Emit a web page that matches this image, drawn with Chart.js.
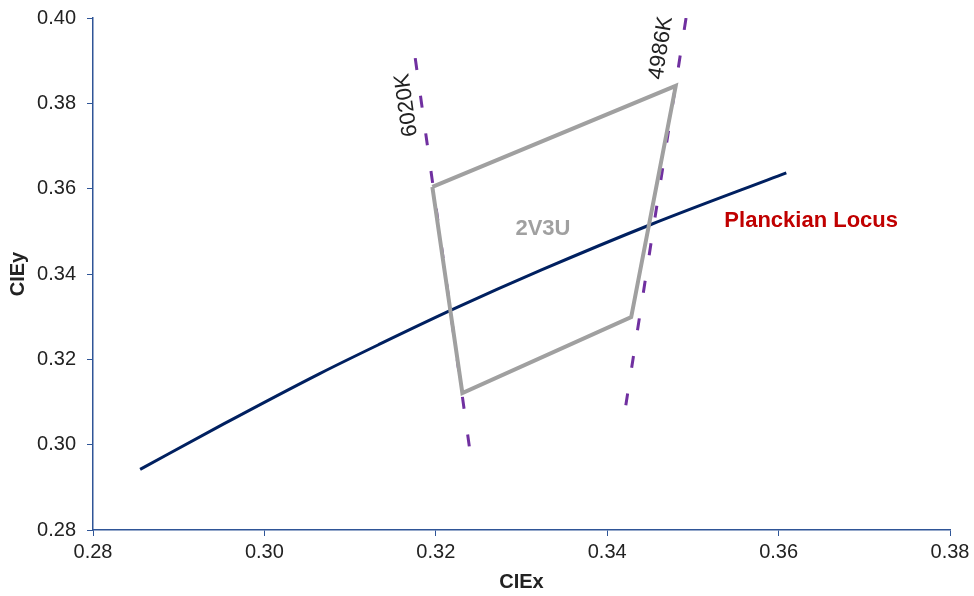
<!DOCTYPE html>
<html>
<head>
<meta charset="utf-8">
<script src="https://cdn.jsdelivr.net/npm/chart.js@4.4.0/dist/chart.umd.min.js"></script>
<style>
  body { margin: 0; background: #fff; }
  #wrap { width: 974px; height: 596px; }
</style>
</head>
<body>
<div id="wrap"><canvas id="cie"></canvas></div>
<script>
// planckian locus (CIE 1931), ~9000K down to 4500K
const locusX = [0.2855, 0.2952, 0.3064, 0.3135, 0.3221, 0.3324, 0.3451, 0.3609];
const locusY = [0.2942, 0.3048, 0.3166, 0.3236, 0.3318, 0.3410, 0.3516, 0.3637];

// 2V3U quadrangle
const quadX = [0.3196, 0.3480, 0.3428, 0.3231, 0.3196];
const quadY = [0.3604, 0.3841, 0.3299, 0.3121, 0.3604];

// isotherm lines
const cct6020X = [0.3176, 0.3240];
const cct6020Y = [0.3906, 0.2983];
const cct4986X = [0.3492, 0.3420];
const cct4986Y = [0.4000, 0.3070];

const xTicks = [0.28, 0.30, 0.32, 0.34, 0.36, 0.38];
const yTicks = [0.28, 0.30, 0.32, 0.34, 0.36, 0.38, 0.40];

// text labels: [text, x, y, rotation deg, color, bold]
const notes = [
  ["6020K", 0.3166, 0.3796, -98, "#222222", false],
  ["4986K", 0.3463, 0.3930, -81, "#222222", false],
  ["2V3U", 0.3325, 0.3505, 0, "#A0A0A0", true],
  ["Planckian Locus", 0.3638, 0.3524, 0, "#C00000", true]
];

function toPts(xs, ys) {
  return xs.map((x, i) => ({ x: x, y: ys[i] }));
}

const axisColor = "#2F5597";
const font = "'Liberation Sans', Arial, sans-serif";

const notesPlugin = {
  id: "notes",
  afterDatasetsDraw(chart) {
    const ctx = chart.ctx;
    const sx = chart.scales.x, sy = chart.scales.y;
    notes.forEach(n => {
      ctx.save();
      ctx.translate(sx.getPixelForValue(n[1]), sy.getPixelForValue(n[2]));
      ctx.rotate(n[3] * Math.PI / 180);
      ctx.fillStyle = n[4];
      ctx.font = (n[5] ? "bold " : "") + "22px " + font;
      ctx.textAlign = "center";
      ctx.textBaseline = "middle";
      ctx.fillText(n[0], 0, 0);
      ctx.restore();
    });
  }
};

// first dataset ends up drawn on top
new Chart(document.getElementById("cie"), {
  type: "scatter",
  data: {
    datasets: [
      {
        data: toPts(quadX, quadY),
        showLine: true, borderColor: "#A0A0A0", borderWidth: 4,
        pointRadius: 0
      },
      {
        data: toPts(locusX, locusY),
        showLine: true, borderColor: "#002060", borderWidth: 3,
        pointRadius: 0, cubicInterpolationMode: "monotone"
      },
      {
        data: toPts(cct6020X, cct6020Y),
        showLine: true, borderColor: "#7030A0", borderWidth: 3,
        borderDash: [12, 26], pointRadius: 0
      },
      {
        data: toPts(cct4986X, cct4986Y),
        showLine: true, borderColor: "#7030A0", borderWidth: 3,
        borderDash: [12, 26], pointRadius: 0
      }
    ]
  },
  options: {
    responsive: true,
    maintainAspectRatio: false,
    animation: false,
    layout: { padding: { top: 18, right: 24, left: 0, bottom: 0 } },
    plugins: { legend: { display: false }, tooltip: { enabled: false } },
    scales: {
      x: {
        type: "linear", min: 0.28, max: 0.38,
        afterFit(scale) { scale.height = 66; scale.paddingLeft = 0; scale.paddingRight = 0; },
        afterBuildTicks(scale) { scale.ticks = xTicks.map(v => ({ value: v })); },
        grid: { display: true, drawOnChartArea: false, drawTicks: true, tickLength: 6, color: axisColor },
        border: { color: axisColor, width: 1.5 },
        ticks: { color: "#222", font: { family: font, size: 20 }, padding: 4, callback: v => v.toFixed(2) },
        title: { display: true, text: "CIEx", color: "#222", font: { family: font, size: 20, weight: "bold" }, padding: { top: 0, bottom: 2 } }
      },
      y: {
        type: "linear", min: 0.28, max: 0.40,
        afterFit(scale) { scale.width = 93; scale.paddingTop = 0; scale.paddingBottom = 0; },
        afterBuildTicks(scale) { scale.ticks = yTicks.map(v => ({ value: v })); },
        grid: { display: true, drawOnChartArea: false, drawTicks: true, tickLength: 6, color: axisColor },
        border: { color: axisColor, width: 1.5 },
        ticks: { color: "#222", font: { family: font, size: 20 }, padding: 11, callback: v => v.toFixed(2) },
        title: { display: true, text: "CIEy", color: "#222", font: { family: font, size: 20, weight: "bold" }, padding: { top: 6, bottom: 0 } }
      }
    }
  },
  plugins: [notesPlugin]
});
</script>
</body>
</html>
